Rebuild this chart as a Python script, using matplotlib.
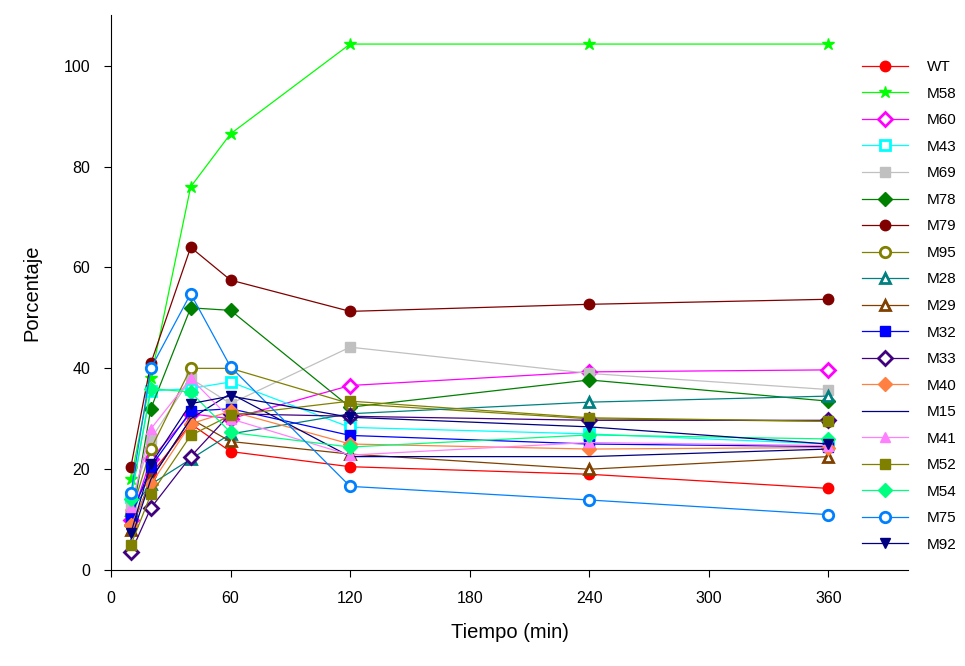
import matplotlib
matplotlib.use("Agg")
import matplotlib.pyplot as plt

plt.rcParams['font.family'] = ['Liberation Sans', 'DejaVu Sans']

# Tiempo de muestreo (min)
tiempo = [10, 20, 40, 60, 120, 240, 360]

cepas = ['WT', 'M58', 'M60', 'M43', 'M69', 'M78', 'M79', 'M95', 'M28', 'M29',
         'M32', 'M33', 'M40', 'M15', 'M41', 'M52', 'M54', 'M75', 'M92']

wt = [12, 19, 29, 23.5, 20.5, 19, 16.2]
m58 = [18, 38, 76, 86.5, 104.3, 104.3, 104.3]
m60 = [10, 22, 31, 30, 36.6, 39.3, 39.7]
m43 = [14.5, 35.5, 36, 37.3, 28.3, 27, 25]
m69 = [13, 26, 38, 33, 44.2, 39, 35.8]
m78 = [9, 32, 52, 51.5, 32.3, 37.7, 33.5]
m79 = [20.5, 41, 64, 57.5, 51.3, 52.7, 53.7]
m95 = [11, 24, 40, 40, 33, 30, 29.5]
m28 = [12, 17, 22, 27, 31, 33.3, 34.5]
m29 = [8, 18, 30, 25.5, 23, 20, 22.5]
m32 = [10.5, 20.5, 31.5, 32, 26.7, 25, 24.5]
m33 = [3.5, 12.3, 22.5, 31, 30.5, 29.7, 29.7]
m40 = [9, 17, 29, 31.5, 25, 24, 24.3]
m15 = [6, 18, 30, 35, 22.5, 22.5, 24]
m41 = [12.5, 28, 38, 30, 22.8, 25.3, 24.7]
m52 = [5, 15, 26.7, 30.7, 33.5, 30.2, 29.5]
m54 = [14, 36, 35.3, 27.3, 24.4, 26.8, 26]
m75 = [15.2, 40, 54.8, 40.3, 16.6, 13.9, 11]
m92 = [7.3, 21, 33, 34.5, 30.3, 28.4, 25]

datos = [wt, m58, m60, m43, m69, m78, m79, m95, m28, m29,
         m32, m33, m40, m15, m41, m52, m54, m75, m92]

colores = ['#FF0000', '#00FF00', '#FF00FF', '#00FFFF', '#C0C0C0', '#008000',
           '#800000', '#808000', '#008080', '#804000', '#0000FF', '#400080',
           '#FF8040', '#000080', '#FF80FF', '#808000', '#00FF80', '#0080FF',
           '#000080']
marcadores = ['o', '*', 'D', 's', 's', 'D', 'o', 'o', '^', '^',
              's', 'D', 'D', None, '^', 's', 'D', 'o', 'v']
abiertos = [False, False, True, True, False, False, False, True, True, True,
            False, True, False, False, False, False, False, True, False]

fig, ax = plt.subplots(figsize=(9.65, 6.66), dpi=100)
fig.subplots_adjust(left=0.115, right=0.941, bottom=0.144, top=0.977)

for nombre, y, c, m, ab in zip(cepas, datos, colores, marcadores, abiertos):
    ms = 9 if m == '*' else 7.5
    ax.plot(tiempo, y, color=c, lw=0.9, marker=m, markersize=ms,
            markerfacecolor='white' if ab else c, markeredgecolor=c,
            markeredgewidth=2 if ab else 1, label=nombre)

ax.set_xlim(0, 400)
ax.set_ylim(0, 110)
ax.set_xticks([0, 60, 120, 180, 240, 300, 360])
ax.set_yticks([0, 20, 40, 60, 80, 100])
ax.spines['top'].set_visible(False)
ax.spines['right'].set_visible(False)
ax.tick_params(direction='out', length=5, labelsize=11.5, pad=10)
ax.set_xlabel('Tiempo (min)', fontsize=14.5, labelpad=12)
ax.set_ylabel('Porcentaje', fontsize=14.5, labelpad=16)

ax.legend(loc='upper left', bbox_to_anchor=(0.935, 0.93), frameon=False,
          fontsize=11, handlelength=3.0, handletextpad=1.2,
          labelspacing=0.82, borderaxespad=0)

fig.savefig('out.png')
